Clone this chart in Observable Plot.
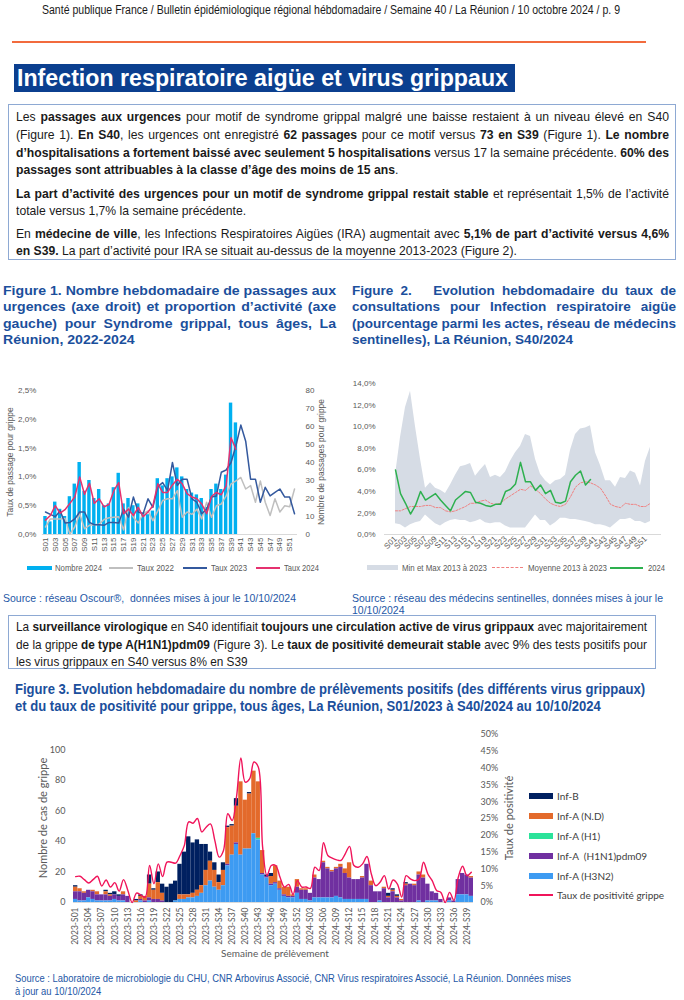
<!DOCTYPE html>
<html lang="fr"><head><meta charset="utf-8">
<script src="https://cdn.jsdelivr.net/npm/d3@7"></script>
<script src="https://cdn.jsdelivr.net/npm/@observablehq/plot@0.6"></script>
<style>
html,body{margin:0;padding:0;background:#fff;}
#page{position:relative;width:684px;height:1000px;overflow:hidden;font-family:"Liberation Sans",Arial,sans-serif;}
.blk{position:absolute;top:0;transform-origin:0 0;}
.ln{position:absolute;left:0;white-space:nowrap;line-height:16px;height:16px;}
.nar{font-family:"Liberation Sans Narrow","Arial Narrow","Liberation Sans",Arial,sans-serif;}
.ready .j{text-align:justify;text-align-last:justify;}
.box{position:absolute;border:1.3px solid #8EA9D3;box-sizing:border-box;}
.abs{position:absolute;white-space:nowrap;}
.rot{position:absolute;white-space:nowrap;transform:translate(-50%,-50%) rotate(-90deg);}
.chart{position:absolute;}
.leg{position:absolute;white-space:nowrap;line-height:10px;}
.lg{font-size:8.5px;color:#595959;}
.sw{position:absolute;}
.ftitle{font-weight:bold;color:#1B4F9C;font-size:12.5px;}
.src{color:#2457A6;font-size:10.5px;}
</style></head>
<body>
<div id="page">
  <!-- header -->
  <div class="blk nar" data-w="578" style="left:42px;font-size:12px;color:#1a1a1a;">
    <div class="ln" style="top:2px"><span class="t">Santé publique France / Bulletin épidémiologique régional hébdomadaire / Semaine 40 / La Réunion / 10 octobre 2024 / p. 9</span></div>
  </div>
  <div class="abs" style="left:12px;top:41px;width:634px;height:2px;background:#F26B3D;"></div>
  <div class="abs" style="left:14px;top:64px;width:501px;height:28px;background:#0B3F8F;"></div>
  <div class="blk nar" data-w="491" style="left:17px;font-size:24px;font-weight:bold;color:#fff;">
    <div class="ln" style="top:66px;line-height:24px;height:24px;"><span class="t">Infection respiratoire aigüe et virus grippaux</span></div>
  </div>

  <!-- box 1 -->
  <div class="box" style="left:8px;top:104px;width:668px;height:156px;"></div>
  <div class="blk nar" data-w="653" style="left:16px;font-size:13.5px;color:#1a1a1a;">
    <div class="ln j" style="top:109px"><span class="t">Les <b>passages aux urgences</b> pour motif de syndrome grippal malgré une baisse restaient à un niveau élevé en S40</span></div>
    <div class="ln j" style="top:127px"><span class="t">(Figure 1). <b>En S40</b>, les urgences ont enregistré <b>62 passages</b> pour ce motif versus <b>73 en S39</b> (Figure 1). <b>Le nombre</b></span></div>
    <div class="ln j" style="top:145px"><span class="t"><b>d’hospitalisations a fortement baissé avec seulement 5 hospitalisations</b> versus 17 la semaine précédente. <b>60% des</b></span></div>
    <div class="ln" style="top:162px"><span class="t"><b>passages sont attribuables à la classe d’âge des moins de 15 ans</b>.</span></div>
    <div class="ln j" style="top:186px"><span class="t"><b>La part d’activité des urgences pour un motif de syndrome grippal restait stable</b> et représentait 1,5% de l’activité</span></div>
    <div class="ln" style="top:203px"><span class="t">totale versus 1,7% la semaine précédente.</span></div>
    <div class="ln j" style="top:226px"><span class="t">En <b>médecine de ville</b>, les Infections Respiratoires Aigües (IRA) augmentait avec <b>5,1% de part d’activité versus 4,6%</b></span></div>
    <div class="ln" style="top:243px"><span class="t"><b>en S39.</b> La part d’activité pour IRA se situait au-dessus de la moyenne 2013-2023 (Figure 2).</span></div>
  </div>

  <!-- figure titles -->
  <div class="blk ftitle" data-w="333" style="left:3px;">
    <div class="ln j" style="top:283px"><span class="t">Figure 1. Nombre hebdomadaire de passages aux</span></div>
    <div class="ln j" style="top:299px"><span class="t">urgences (axe droit) et proportion d’activité (axe</span></div>
    <div class="ln j" style="top:316px"><span class="t">gauche) pour Syndrome grippal, tous âges, La</span></div>
    <div class="ln" style="top:332px"><span class="t">Réunion, 2022-2024</span></div>
  </div>
  <div class="blk ftitle" data-w="324" style="left:352px;">
    <div class="ln j" style="top:283px"><span class="t">Figure 2. &nbsp; Evolution hebdomadaire du taux de</span></div>
    <div class="ln j" style="top:299px"><span class="t">consultations pour Infection respiratoire aigüe</span></div>
    <div class="ln j" style="top:316px"><span class="t">(pourcentage parmi les actes, réseau de médecins</span></div>
    <div class="ln" style="top:332px"><span class="t">sentinelles), La Réunion, S40/2024</span></div>
  </div>

  <!-- charts -->
  <div id="fig1" class="chart" style="left:0;top:370px;"></div>
  <div id="fig2" class="chart" style="left:345px;top:370px;"></div>
  <div class="rot" style="left:10px;top:462px;font-size:8.5px;color:#595959;">Taux de passage pour grippe</div>
  <div class="rot" style="left:321px;top:462px;font-size:8.5px;color:#595959;">Nombre de passages pour grippe</div>

  <!-- legend fig 1 -->
  <div class="sw" style="left:27px;top:566px;width:25px;height:4px;background:#00B0F0;"></div>
  <div class="blk lg" data-w="47" style="left:55px;"><div class="ln" style="top:560px"><span class="t">Nombre 2024</span></div></div>
  <div class="sw" style="left:109px;top:567px;width:24px;height:1.6px;background:#BFBFBF;"></div>
  <div class="blk lg" data-w="37" style="left:137px;"><div class="ln" style="top:560px"><span class="t">Taux 2022</span></div></div>
  <div class="sw" style="left:183px;top:567px;width:24px;height:1.6px;background:#34599E;"></div>
  <div class="blk lg" data-w="36" style="left:211px;"><div class="ln" style="top:560px"><span class="t">Taux 2023</span></div></div>
  <div class="sw" style="left:256px;top:567px;width:24px;height:1.6px;background:#E5316F;"></div>
  <div class="blk lg" data-w="35" style="left:284px;"><div class="ln" style="top:560px"><span class="t">Taux 2024</span></div></div>

  <!-- legend fig 2 -->
  <div class="sw" style="left:367px;top:565px;width:31px;height:5px;background:#D6DCE5;"></div>
  <div class="blk lg" data-w="85" style="left:402px;"><div class="ln" style="top:560px"><span class="t">Min et Max 2013 à 2023</span></div></div>
  <div class="sw" style="left:492px;top:567px;width:31px;height:0;border-top:1px dashed #F08080;"></div>
  <div class="blk lg" data-w="79" style="left:528px;"><div class="ln" style="top:560px"><span class="t">Moyenne 2013 à 2023</span></div></div>
  <div class="sw" style="left:610px;top:567px;width:33px;height:1.6px;background:#2EB04F;"></div>
  <div class="blk lg" data-w="17" style="left:648px;"><div class="ln" style="top:560px"><span class="t">2024</span></div></div>

  <!-- sources 1/2 -->
  <div class="blk src" data-w="293" style="left:3px;">
    <div class="ln" style="top:590px"><span class="t">Source : réseau Oscour®,&nbsp; données mises à jour le 10/10/2024</span></div>
  </div>
  <div class="blk src" data-w="311" style="left:352px;">
    <div class="ln" style="top:590px"><span class="t">Source : réseau des médecins sentinelles, données mises à jour le</span></div>
    <div class="ln" style="top:602px"><span class="t">10/10/2024</span></div>
  </div>

  <!-- box 2 -->
  <div class="box" style="left:8px;top:615px;width:648px;height:54px;"></div>
  <div class="blk nar" data-w="631" style="left:16px;font-size:13.5px;color:#1a1a1a;">
    <div class="ln j" style="top:619px"><span class="t">La <b>surveillance virologique</b> en S40 identifiait <b>toujours une circulation active de virus grippaux</b> avec majoritairement</span></div>
    <div class="ln j" style="top:637px"><span class="t">de la grippe <b>de type A(H1N1)pdm09</b> (Figure 3). Le <b>taux de positivité demeurait stable</b> avec 9% des tests positifs pour</span></div>
    <div class="ln" style="top:654px"><span class="t">les virus grippaux en S40 versus 8% en S39</span></div>
  </div>

  <!-- figure 3 title -->
  <div class="blk nar" data-w="630" style="left:15px;font-size:14px;font-weight:bold;color:#1B4F9C;">
    <div class="ln" style="top:681px"><span class="t">Figure 3. Evolution hebdomadaire du nombre de prélèvements positifs (des différents virus grippaux)</span></div>
    <div class="ln" style="top:698px"><span class="t">et du taux de positivité pour grippe, tous âges, La Réunion, S01/2023 à S40/2024 au 10/10/2024</span></div>
  </div>

  <div id="fig3" class="chart" style="left:0;top:720px;"></div>
  <div class="rot" style="left:42px;top:818px;font-family:Lato,sans-serif;font-size:11px;color:#595959;">Nombre de cas de grippe</div>
  <div class="rot" style="left:508px;top:818px;font-family:Lato,sans-serif;font-size:11px;color:#595959;">Taux de positivité</div>
  <div class="abs" style="left:275px;top:953px;transform:translate(-50%,-50%);font-family:Lato,sans-serif;font-size:10px;color:#595959;">Semaine de prélèvement</div>

  <!-- legend fig 3 -->
  <div id="leg3"></div>

  <div class="blk nar src" data-w="556" style="left:15px;font-size:11px;">
    <div class="ln" style="top:971px;line-height:14px;height:14px;"><span class="t">Source : Laboratoire de microbiologie du CHU, CNR Arbovirus Associé, CNR Virus respiratoires Associé, La Réunion. Données mises</span></div>
    <div class="ln" style="top:984px;line-height:14px;height:14px;"><span class="t">à jour au 10/10/2024</span></div>
  </div>
</div>

<script>
// ---------------- Figure 1 data ----------------
const weeks52 = d3.range(1, 53).map(w => "S" + String(w).padStart(2, "0"));
const fig1Ticks = weeks52.filter((d, i) => i % 2 === 0);
const nombre2024 = [10, 7, 18, 14, 10, 21, 28, 40, 24, 30, 20, 25, 16, 17, 26, 34, 17, 20, 16, 17,
  12, 11, 13, 31, 27, 31, 32, 37, 32, 25, 23, 22, 20, 15, 25, 28, 25, 33, 73, 62];
const taux2022 = [0.13, 0.27, 0.27, 0.27, 0.28, 0.01, 0.13, 0.36, 0.10, 0.16, 0.17, 0.18, 0.26, 0.29, 0.30, 0.31,
  0.08, 0.47, 0.30, 0.20, 0.36, 0.41, 0.24, 0.41, 0.59, 0.62, 0.62, 0.76, 0.30, 0.39, 0.35, 0.44, 0.27, 0.56,
  0.30, 0.50, 0.53, 0.67, 0.88, 0.93, 0.99, 0.79, 0.85, 0.56, 0.93, 0.56, 0.33, 0.62, 0.39, 0.50, 0.48, 0.79];
const taux2023 = [0.39, 0.35, 0.31, 0.41, 0.20, 0.21, 0.27, 0.39, 0.39, 0.21, 0.17, 0.17, 0.16, 0.21, 0.21, 0.20,
  0.44, 0.30, 0.65, 0.39, 0.36, 0.62, 0.47, 0.83, 0.90, 0.76, 1.25, 0.85, 0.96, 0.96, 0.62, 0.56, 0.36, 0.44,
  0.65, 0.67, 1.08, 1.12, 1.25, 1.54, 1.90, 1.62, 0.96, 0.96, 0.56, 0.82, 0.67, 0.73, 0.79, 0.65, 0.65, 0.36];
const taux2024 = [0.25, 0.33, 0.50, 0.37, 0.43, 0.54, 0.65, 1.00, 0.70, 0.89, 0.54, 0.62, 0.48, 0.52, 0.76, 0.90,
  0.36, 0.44, 0.33, 0.47, 0.31, 0.39, 0.50, 0.88, 0.73, 0.73, 0.86, 0.96, 0.88, 0.71, 0.65, 0.62, 0.53, 0.36,
  0.66, 0.73, 0.69, 0.85, 1.68, 1.48];
const fig1LeftTicks = [0, 0.5, 1, 1.5, 2, 2.5];
const fig1RightTicks = [0, 10, 20, 30, 40, 50, 60, 70, 80];

// ---------------- Figure 2 data ----------------
const fig2Max = [5.5, 9.0, 11.8, 13.3, 10.0, 7.0, 4.3, 4.8, 4.3, 4.1, 3.8, 4.6, 5.5, 6.3, 6.4, 6.6, 5.4, 6.0, 6.5, 5.3,
  5.5, 5.3, 5.8, 6.8, 7.6, 8.2, 9.3, 9.1, 7.0, 5.6, 5.0, 4.6, 5.0, 5.1, 5.5, 7.8, 9.3, 9.8, 9.9, 10.1,
  7.6, 6.4, 5.0, 5.0, 4.4, 5.3, 5.2, 5.9, 5.7, 4.5, 6.8, 8.1];
const fig2Min = [1.0, 0.9, 0.6, 0.9, 1.1, 1.2, 1.8, 1.4, 1.0, 0.8, 1.1, 1.3, 1.4, 1.3, 1.3, 1.1, 1.2, 1.4, 1.1, 1.0,
  1.1, 1.1, 0.8, 0.6, 0.6, 0.6, 0.6, 1.2, 1.8, 1.3, 1.3, 0.8, 1.1, 1.5, 1.5, 1.4, 1.4, 1.3, 1.2, 1.1,
  0.9, 0.9, 0.8, 0.6, 1.0, 1.4, 1.4, 1.5, 1.2, 1.2, 1.0, 1.2];
const fig2Mean = [2.2, 2.2, 2.4, 2.6, 2.6, 2.6, 2.7, 2.7, 2.5, 2.5, 2.2, 2.1, 2.2, 2.4, 2.6, 2.9, 2.9, 3.1, 3.2, 2.9,
  2.8, 2.9, 3.3, 3.6, 3.9, 4.2, 4.1, 4.5, 4.2, 3.8, 3.3, 2.9, 2.7, 2.6, 2.8, 3.5, 4.4, 4.8, 4.9, 4.8,
  4.6, 4.3, 3.6, 2.8, 2.6, 2.5, 2.9, 2.8, 2.8, 2.6, 2.6, 2.9];
const fig2Y2024 = [6.0, 3.8, 2.9, 1.9, 2.7, 4.0, 3.2, 3.5, 3.8, 3.2, 2.7, 2.2, 3.2, 3.6, 4.0, 3.9, 3.0, 2.9, 2.7, 2.6,
  2.8, 2.8, 4.0, 4.2, 4.7, 6.7, 4.9, 4.9, 4.1, 4.6, 3.8, 4.1, 3.0, 2.9, 3.1, 4.9, 5.5, 5.9, 4.6, 5.1];
const fig2Ticks = weeks52.filter((d, i) => i % 2 === 0);
const fig2YTicks = [0, 2, 4, 6, 8, 10, 12, 14];

// ---------------- Figure 3 data ----------------
const weeks92 = [...d3.range(1, 53).map(w => "2023-S" + String(w).padStart(2, "0")),
                 ...d3.range(1, 41).map(w => "2024-S" + String(w).padStart(2, "0"))];
const fig3Ticks = weeks92.filter((d, i) => i % 3 === 0);
const fig3Types = ["Inf-B", "Inf-A (N.D)", "Inf-A (H1)", "Inf-A  (H1N1)pdm09", "Inf-A (H3N2)"];
const fig3Colors = ["#002060", "#E36A2B", "#2BE39A", "#7030A0", "#3D9BF2"];
const infB = [1,0,0,0,0,0,0,1,1,2, 1,0,0,0,1,1,0,6,1,7, 6,10,12,13,20,28,38,33,33,27,
  17,6,5,5,5,1,1,5,0,0, 1,0,0,0,1,2,0,0,0,0, 0,0,0,0,0,0,0,0,0,0,
  0,0,0,0,0,0,0,0,0,0, 0,0,2,1,1,0,1,0,0,0, 0,0,0,0,0,0,0,0,0,0, 0,0];
const infAND = [3,2,1,0,1,2,0,2,1,0, 0,2,0,0,1,2,3,9,6,11, 5,0,0,0,3,3,2,3,4,5,
  10,13,11,5,10,24,19,24,48,32, 36,41,37,15,0,5,11,5,5,6, 1,5,1,1,0,2,0,1,1,1,
  1,2,3,10,0,0,1,0,3,0, 0,1,1,1,1,1,1,0,1,2, 2,0,0,0,0,0,0,0,0,0, 0,1];
const infAH1 = [0,0,0,0,0,0,0,0,0,0, 0,0,0,0,0,0,0,0,0,0, 0,0,0,0,0,0,0,0,0,0,
  0,0,0,0,0,0,0,0,0,0, 0,0,1,0,0,0,0,0,0,0, 0,0,0,0,0,0,0,0,0,0,
  0,0,0,0,0,0,0,0,0,0, 0,0,0,0,0,0,0,0,0,0, 0,0,0,0,0,0,0,0,0,0, 0,0];
const infAH1N1 = [5,6,5,5,5,4,4,4,3,3, 3,4,4,0,0,1,1,2,2,2, 1,0,0,0,0,0,0,0,0,0,
  0,0,0,0,0,1,0,1,0,0, 0,0,0,1,1,1,1,1,1,1, 1,4,6,6,5,13,12,23,19,17,
  18,20,17,14,13,13,14,23,11,7, 6,9,3,7,3,1,11,12,11,17, 16,11,6,5,2,0,2,1,10,14, 13,12];
const infAH3N2 = [2,1,1,3,2,1,1,1,1,2, 1,1,0,0,0,1,0,1,0,0, 0,0,0,1,2,2,3,3,4,6,
  11,14,10,8,11,24,31,38,31,35, 35,45,41,18,16,11,12,8,4,3, 3,6,2,2,1,3,3,3,3,3,
  4,3,2,2,2,2,2,2,0,0, 1,0,0,0,0,0,0,0,0,1, 0,1,1,1,0,0,1,0,5,5, 5,4];
const positivite = [7.7, 7.8, 6.8, 5.8, 6.8, 7.8, 4.9, 6.7, 4.6, 5.9,
  3.4, 6.8, 3.6, 0, 2.8, 2.2, 1.6, 11, 5.6, 11.5,
  7.7, 12, 12, 11.7, 14, 17, 24, 23.6, 25, 21,
  22.4, 23.4, 18.5, 13.5, 15.5, 26.4, 24.4, 31.5, 43, 35.8,
  36.8, 41.8, 40.3, 16.5, 8, 11, 11, 7.5, 4.6, 5.4,
  2.4, 6.5, 4.6, 4.6, 4.2, 10.5, 9.5, 17.8, 14, 13.2,
  12.7, 12.5, 14.5, 16.7, 11, 10.5, 11.5, 13.7, 8.5, 5,
  6, 8, 4, 6.7, 5.5, 1.6, 8, 7, 6.5, 7,
  12, 8.5, 6.5, 3.6, 3, 0, 3, 0.6, 7.5, 10.8,
  8, 9];
const fig3LeftTicks = [0, 20, 40, 60, 80, 100];
const fig3RightTicks = [0, 5, 10, 15, 20, 25, 30, 35, 40, 45, 50];

// ---------------- Figure 1 ----------------
const k1 = 2.5 / 80;
const f1 = weeks52.map((w, i) => ({w, n: nombre2024[i], t22: taux2022[i], t23: taux2023[i], t24: taux2024[i]}));
const style12 = {fontFamily: "'Liberation Sans', Arial, sans-serif", fontSize: "8px", color: "#595959", background: "transparent", overflow: "visible"};
document.getElementById("fig1").appendChild(Plot.plot({
  width: 345, height: 205, marginTop: 20, marginBottom: 41, marginLeft: 41.8, marginRight: 48,
  style: style12,
  x: {type: "band", domain: weeks52, range: [41.8, 297.2], padding: 0.3},
  y: {domain: [0, 2.5]},
  marks: [
    Plot.ruleY([0], {stroke: "#D9D9D9"}),
    Plot.barY(f1.filter(d => d.n != null), {x: "w", y: d => d.n * k1, fill: "#00B0F0"}),
    Plot.line(f1, {x: "w", y: "t22", stroke: "#BFBFBF", strokeWidth: 1.5}),
    Plot.line(f1, {x: "w", y: "t23", stroke: "#34599E", strokeWidth: 1.5}),
    Plot.line(f1.filter(d => d.t24 != null), {x: "w", y: "t24", stroke: "#E5316F", strokeWidth: 1.5}),
    Plot.axisY(fig1LeftTicks, {tickFormat: d => d.toFixed(1).replace(".", ",") + "%", tickSize: 0, tickPadding: 6, label: null}),
    Plot.axisY(fig1RightTicks.map(v => v * k1), {anchor: "right", tickFormat: v => String(Math.round(v / k1)), tickSize: 0, tickPadding: 8, label: null}),
    Plot.axisX({ticks: fig1Ticks, tickRotate: -90, tickSize: 0, tickPadding: 3, label: null})
  ]
}));

// ---------------- Figure 2 ----------------
const f2 = weeks52.map((w, i) => ({w, min: fig2Min[i], max: fig2Max[i], mean: fig2Mean[i], v24: fig2Y2024[i]}));
document.getElementById("fig2").appendChild(Plot.plot({
  width: 339, height: 205, marginTop: 13.3, marginBottom: 41, marginLeft: 39, marginRight: 23,
  style: style12,
  x: {type: "point", domain: weeks52, range: [39, 316], padding: 0},
  y: {domain: [0, 14]},
  marks: [
    Plot.areaY(f2, {x: "w", y1: "min", y2: "max", fill: "#D6DCE5"}),
    Plot.ruleY([0], {stroke: "#D9D9D9"}),
    Plot.line(f2, {x: "w", y: "mean", stroke: "#F08080", strokeWidth: 1, strokeDasharray: "2,1.5"}),
    Plot.line(f2.filter(d => d.v24 != null), {x: "w", y: "v24", stroke: "#2EB04F", strokeWidth: 1.5}),
    Plot.axisY(fig2YTicks, {tickFormat: d => d.toFixed(1).replace(".", ",") + "%", tickSize: 0, tickPadding: 9, label: null}),
    Plot.axisX({ticks: fig2Ticks, tickRotate: -45, tickSize: 0, tickPadding: 3, label: null})
  ]
}));

// ---------------- Figure 3 ----------------
const k3 = 110 / 50;
const series3 = [infB, infAND, infAH1, infAH1N1, infAH3N2];
const long3 = [];
weeks92.forEach((w, i) => fig3Types.forEach((t, j) => long3.push({w, type: t, v: series3[j][i]})));
const pos3 = weeks92.map((w, i) => ({w, p: positivite[i]}));
document.getElementById("fig3").appendChild(Plot.plot({
  width: 684, height: 250, marginTop: 14, marginBottom: 68, marginLeft: 73, marginRight: 211,
  style: {fontFamily: "Lato, 'Liberation Sans', sans-serif", fontSize: "9px", color: "#595959", background: "transparent", overflow: "visible"},
  x: {type: "band", domain: weeks92, range: [73, 473], padding: 0},
  y: {domain: [0, 110]},
  color: {domain: fig3Types, range: fig3Colors},
  marks: [
    Plot.barY(long3, {x: "w", y: "v", fill: "type", order: ["Inf-A (H3N2)", "Inf-A  (H1N1)pdm09", "Inf-A (H1)", "Inf-A (N.D)", "Inf-B"]}),
    Plot.ruleY([0], {stroke: "#D9D9D9"}),
    Plot.line(pos3, {x: "w", y: d => d.p * k3, stroke: "#F0145A", strokeWidth: 1.4, curve: "catmull-rom"}),
    Plot.axisY(fig3LeftTicks, {tickSize: 0, tickPadding: 8, label: null}),
    Plot.axisY(fig3RightTicks.map(p => p * k3), {anchor: "right", tickFormat: v => Math.round(v / k3) + "%", tickSize: 0, tickPadding: 7, label: null}),
    Plot.axisX({ticks: fig3Ticks, tickRotate: -90, tickSize: 0, tickPadding: 5, fontSize: 8.5, label: null})
  ]
}));

// legend fig 3
const leg3 = document.getElementById("leg3");
const rows3 = [796, 816, 836, 856, 876];
fig3Types.forEach((t, j) => {
  const sw = document.createElement("div");
  sw.className = "sw";
  sw.style.cssText = `left:529px;top:${rows3[j] - 3}px;width:24px;height:6px;background:${fig3Colors[j]};`;
  leg3.appendChild(sw);
  const tx = document.createElement("div");
  tx.className = "leg";
  tx.style.cssText = `left:557px;top:${rows3[j] - 6}px;font-family:Lato,sans-serif;font-size:10px;line-height:12px;color:#404040;white-space:pre;`;
  tx.textContent = t;
  leg3.appendChild(tx);
});
{
  const sw = document.createElement("div");
  sw.className = "sw";
  sw.style.cssText = "left:529px;top:894px;width:24px;height:1.6px;background:#F0145A;";
  leg3.appendChild(sw);
  const tx = document.createElement("div");
  tx.className = "leg";
  tx.style.cssText = "left:557px;top:889px;font-family:Lato,sans-serif;font-size:10px;line-height:12px;color:#404040;";
  tx.textContent = "Taux de positivité grippe";
  leg3.appendChild(tx);
}

// fit text blocks to reference widths
function fit() {
  document.getElementById("page").classList.remove("ready");
  document.querySelectorAll(".blk").forEach(blk => {
    blk.style.transform = "none";
    const W = +blk.dataset.w;
    const lines = [...blk.querySelectorAll(".ln")];
    lines.forEach(l => l.style.width = "auto");
    let max = 0;
    lines.forEach(l => { max = Math.max(max, l.querySelector(".t").getBoundingClientRect().width); });
    const sc = W / max;
    blk.style.transform = `scaleX(${sc})`;
    lines.forEach(l => { l.style.width = (W / sc) + "px"; });
  });
  document.getElementById("page").classList.add("ready");
}
fit();
if (document.fonts && document.fonts.ready) document.fonts.ready.then(fit);
</script>
</body></html>
